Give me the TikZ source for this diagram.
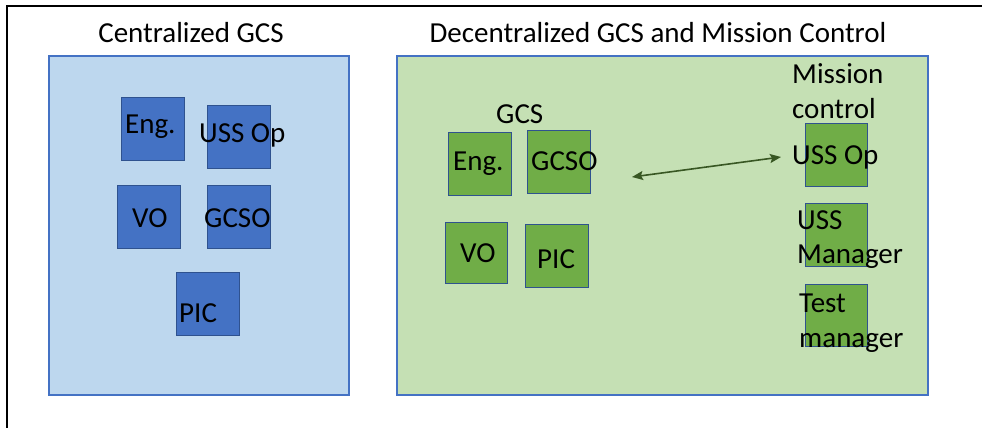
\documentclass[tikz,border=0pt]{standalone}
\usepackage{fontspec}
\setmainfont{Carlito}
\usetikzlibrary{arrows.meta}
\definecolor{bgblue}{HTML}{BDD7EE}
\definecolor{bgborder}{HTML}{4472C4}
\definecolor{boxblue}{HTML}{4472C4}
\definecolor{boxborder}{HTML}{2F528F}
\definecolor{bggreen}{HTML}{C5E0B4}
\definecolor{boxgreen}{HTML}{70AD47}
\definecolor{arrowgreen}{HTML}{385723}
\tikzset{
  panel/.style={draw=bgborder, line width=1.2pt, inner sep=0pt},
  bluebox/.style={draw=boxborder, fill=boxblue, line width=1pt, inner sep=0pt, minimum width=63pt, minimum height=63pt},
  greenbox/.style={draw=boxborder, fill=boxgreen, line width=1pt, inner sep=0pt, minimum width=63pt, minimum height=63pt},
  lbl/.style={anchor=base west, inner sep=0pt, font=\fontsize{29}{35}\selectfont, text=black},
  ttl/.style={anchor=base, inner sep=0pt, font=\fontsize{29}{35}\selectfont, text=black},
  link/.style={draw=arrowgreen, line width=1.6pt, {Stealth[length=11pt,width=9pt,inset=2pt]}-{Stealth[length=11pt,width=9pt,inset=2pt]}}
}
\begin{document}
\begin{tikzpicture}[x=1pt,y=-1pt]
\useasboundingbox (0,0) rectangle (982,428);
\fill[white] (0,0) rectangle (982,428);
\draw[line width=2.2pt] (1000,6) -- (7,6) -- (7,440);
% panels
\node[panel, fill=bgblue, minimum width=300pt, minimum height=339pt] (leftpanel) at (199,225.5) {};
\node[panel, fill=bggreen, minimum width=531pt, minimum height=339pt] (rightpanel) at (662.5,225.5) {};
% titles
\node[ttl] (lefttitle) at (191,43) {Centralized GCS};
\node[ttl] (righttitle) at (658,43) {Decentralized GCS and Mission Control};
% left boxes
\node[bluebox] (lEng) at (152.5,128.5) {};
\node[bluebox] (lUSS) at (238.5,136.5) {};
\node[bluebox] (lVO) at (149,216.5) {};
\node[bluebox] (lGCSO) at (239,216.5) {};
\node[bluebox] (lPIC) at (208,303.5) {};
\node[lbl] (tlEng) at (125,133) {Eng.};
\node[lbl] (tlUSS) at (199,142) {USS Op};
\node[lbl] (tlVO) at (132,227) {VO};
\node[lbl] (tlGCSO) at (204,227) {GCSO};
\node[lbl] (tlPIC) at (179,322) {PIC};
% right GCS boxes
\node[lbl] (tGCS) at (496,123) {GCS};
\node[greenbox] (rEng) at (480,163.5) {};
\node[greenbox] (rGCSO) at (559,162) {};
\node[greenbox, minimum width=62pt, minimum height=61pt] (rVO) at (476,252.5) {};
\node[greenbox] (rPIC) at (556.5,256) {};
\node[lbl] (trEng) at (453,170) {Eng.};
\node[lbl] (trGCSO) at (531,170) {GCSO};
\node[lbl] (trVO) at (460,262) {VO};
\node[lbl] (trPIC) at (537,268) {PIC};
% mission control
\node[lbl] (tMission) at (792,83) {Mission};
\node[lbl] (tControl) at (792,118) {control};
\node[greenbox, minimum width=62pt] (mUSS) at (836,154.5) {};
\node[greenbox, minimum width=62pt] (mMgr) at (836,234.5) {};
\node[greenbox, minimum width=62pt, minimum height=62pt] (mTest) at (836,315) {};
\node[lbl] (tmUSS) at (792,164) {USS Op};
\node[lbl] (tmUSS2) at (797,229) {USS};
\node[lbl] (tmMgr) at (797,263) {Manager};
\node[lbl] (tmTest) at (799,312) {Test};
\node[lbl] (tmTest2) at (799,347) {manager};
% arrow
\coordinate (aL) at (632,177);
\coordinate (aR) at (781,157);
\draw[link] (aL) -- (aR);
\end{tikzpicture}
\end{document}
